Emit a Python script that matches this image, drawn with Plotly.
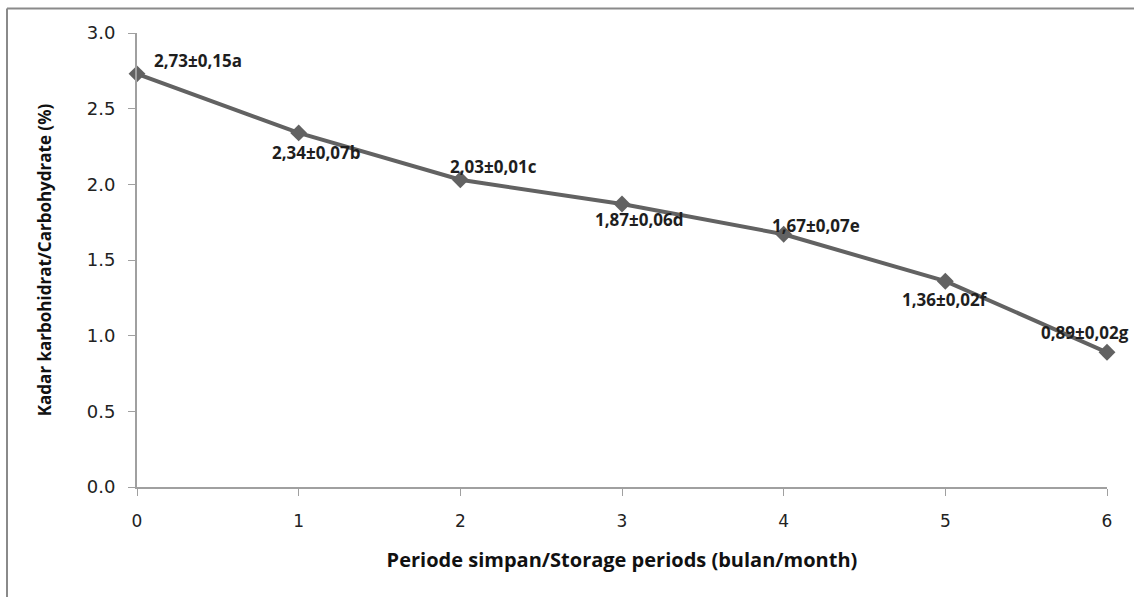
import plotly.graph_objects as go

months = [0, 1, 2, 3, 4, 5, 6]
carbohydrate = [2.73, 2.34, 2.03, 1.87, 1.67, 1.36, 0.89]
labels = ["2,73±0,15a", "2,34±0,07b", "2,03±0,01c", "1,87±0,06d",
          "1,67±0,07e", "1,36±0,02f", "0,89±0,02g"]
y_ticks = [0.0, 0.5, 1.0, 1.5, 2.0, 2.5, 3.0]

# label offsets (pixels) relative to each point
offsets = [(61, 13), (18, -20), (33, 13), (17, -15), (32, 9), (0, -18), (-22, 20)]

fig = go.Figure()
fig.add_trace(go.Scatter(
    x=months, y=carbohydrate, mode="lines+markers",
    line=dict(color="#626262", width=4),
    marker=dict(symbol="diamond", size=13, color="#626262"),
    showlegend=False, hoverinfo="skip", cliponaxis=False))

for xv, yv, lab, (dx, dy) in zip(months, carbohydrate, labels, offsets):
    fig.add_annotation(x=xv, y=yv, text=lab, showarrow=False,
                       xshift=dx, yshift=dy,
                       font=dict(family="Open Sans", size=17, color="#1e1e1e", weight="bold"))

fig.update_layout(
    width=1134, height=597,
    margin=dict(l=137, r=27, t=33, b=110),
    paper_bgcolor="white", plot_bgcolor="white",
    xaxis=dict(range=[0, 6], tickvals=months, showgrid=False, zeroline=False,
               automargin=False,
               showline=True, linecolor="#a0a0a0", linewidth=1.5,
               ticks="outside", ticklen=7, tickcolor="#a0a0a0",
               ticklabelstandoff=11,
               tickfont=dict(family="DejaVu Sans", size=17, color="#222222"),
               title=dict(text="<b>Periode simpan/Storage periods (bulan/month)</b>",
                          font=dict(family="Open Sans", size=20, color="#111111"),
                          standoff=23)),
    yaxis=dict(range=[0, 3], tickvals=y_ticks, tickformat=".1f", showgrid=False,
               automargin=False,
               zeroline=False, showline=True, linecolor="#a0a0a0", linewidth=2,
               ticks="outside", ticklen=7, tickcolor="#a0a0a0",
               ticklabelstandoff=9,
               tickfont=dict(family="DejaVu Sans", size=18, color="#222222"),
               title=dict(text="<b>Kadar karbohidrat/Carbohydrate (%)</b>",
                          font=dict(family="Open Sans", size=17, color="#111111"),
                          standoff=31)),
)

# outer chart border (left and top edges; right/bottom run off the canvas)
bx0 = (7 - 137) / 970
by1 = (487 - 8.5) / 454
fig.add_shape(type="line", xref="paper", yref="paper",
              x0=bx0, x1=(1140 - 137) / 970, y0=by1, y1=by1,
              line=dict(color="#8a8a8a", width=2))
fig.add_shape(type="line", xref="paper", yref="paper",
              x0=bx0, x1=bx0, y0=(487 - 600) / 454, y1=by1,
              line=dict(color="#8a8a8a", width=2))

fig.write_html("out.html", config={"displayModeBar": False},
               post_script="document.body.style.margin='0';document.body.style.overflow='hidden';")
